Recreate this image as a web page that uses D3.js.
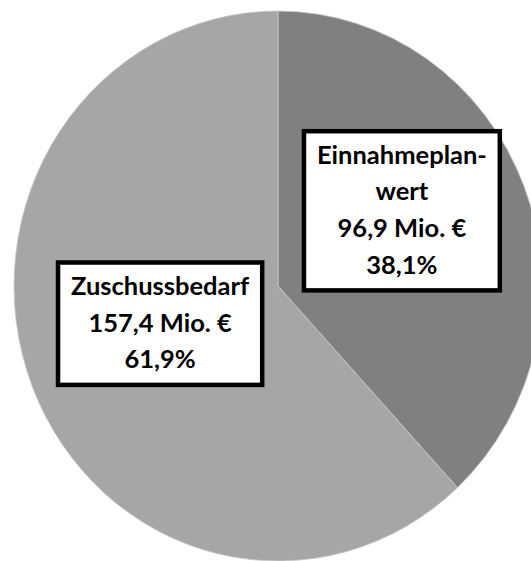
<!DOCTYPE html>
<html>
<head>
<meta charset="utf-8">
<script src="https://cdn.jsdelivr.net/npm/d3@7"></script>
<style>
  body { margin: 0; background: #fff; }
  svg { display: block; }
</style>
</head>
<body>
<div id="chart"></div>
<script>
// data
const categories = ["Einnahmeplanwert", "Zuschussbedarf"]
const nameLines = [["Einnahmeplan-", "wert"], ["Zuschussbedarf"]]
const values = [96.9, 157.4]
const colors = ["#808080", "#a6a6a6"]

const width = 531
const height = 561

const cx = 278, cy = 286
const r = 264
const stretchY = 275 / 264 // picture is a bit taller than wide

const svg = d3.select("#chart")
  .append("svg")
  .attr("width", width)
  .attr("height", height)

const data = categories.map((c, i) => ({ name: c, lines: nameLines[i], value: values[i], color: colors[i] }))
const total = d3.sum(values)

const pie = d3.pie().sort(null).value(d => d.value)
const arcs = pie(data)

const arc = d3.arc().innerRadius(0).outerRadius(r)
const labelArc = d3.arc().innerRadius(r * 0.5).outerRadius(r * 0.5)

const g = svg.append("g")
  .attr("transform", `translate(${cx},${cy}) scale(1,${stretchY})`)

g.selectAll("path")
  .data(arcs)
  .join("path")
  .attr("d", arc)
  .attr("fill", d => d.data.color)
  .attr("stroke", "#c8c8c8")
  .attr("stroke-width", 0.8)

// labels
const fmtNum = v => d3.format(".1f")(v).replace(".", ",")
const lineH = 36.8
// nudges so the boxes sit where Excel put them
const nudge = [[1, -25], [5, -12.5]]

const labels = svg.selectAll("g.label")
  .data(arcs)
  .join("g")
  .attr("class", "label")
  .attr("transform", (d, i) => {
    const [x, y] = labelArc.centroid(d)
    return `translate(${cx + x + nudge[i][0]},${cy + y * stretchY + nudge[i][1]})`
  })

labels.each(function(d) {
  const lab = d3.select(this)
  const lines = d.data.lines.concat([
    fmtNum(d.data.value) + " Mio. €",
    fmtNum(d.data.value / total * 100) + "%"
  ])
  const box = lab.append("rect")
  const txt = lab.append("text")
    .attr("text-anchor", "middle")
    .attr("font-family", "Lato, 'Open Sans', sans-serif")
    .attr("font-weight", 700)
    .attr("font-size", 25.5)
    .attr("fill", "#000")
  const h = lines.length * lineH + 12
  txt.selectAll("tspan")
    .data(lines)
    .join("tspan")
    .attr("x", 0)
    .attr("y", (l, i) => -h / 2 + 6 + lineH * (i + 1) - 10.5)
    .text(l => l)
  const w = d3.max(txt.selectAll("tspan").nodes(), n => n.getComputedTextLength()) + 26
  box.attr("x", -w / 2)
    .attr("y", -h / 2)
    .attr("width", w)
    .attr("height", h)
    .attr("fill", "#fff")
    .attr("stroke", "#000")
    .attr("stroke-width", 4.5)
})
</script>
</body>
</html>
